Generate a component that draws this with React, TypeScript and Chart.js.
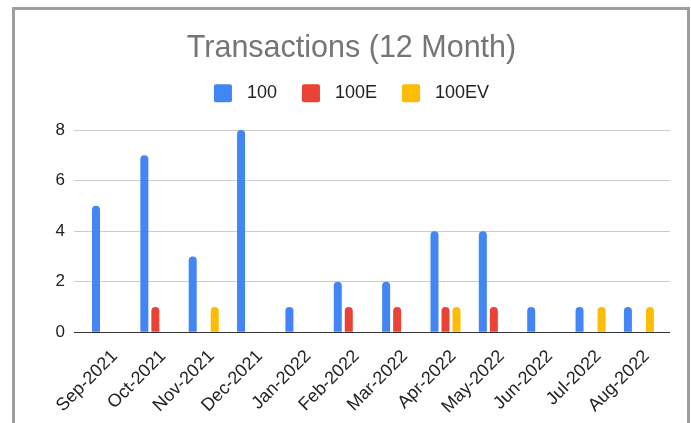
import React, { useEffect, useRef } from "react";
import { Chart, registerables } from "chart.js";

Chart.register(...registerables);

const MONTHS = [
  "Sep-2021", "Oct-2021", "Nov-2021", "Dec-2021", "Jan-2022", "Feb-2022",
  "Mar-2022", "Apr-2022", "May-2022", "Jun-2022", "Jul-2022", "Aug-2022",
];
const SERIES_100 = [5, 7, 3, 8, 1, 2, 2, 4, 4, 1, 1, 1];
const SERIES_100E = [0, 1, 0, 0, 0, 1, 1, 1, 1, 0, 0, 0];
const SERIES_100EV = [0, 0, 1, 0, 0, 0, 0, 1, 0, 0, 1, 1];
const SERIES_NAMES = ["100", "100E", "100EV"];
const Y_TICKS = [0, 2, 4, 6, 8];

const COLORS = ["#4285F4", "#EA4335", "#FBBC04"];
const FONT = "'Liberation Sans', Arial, sans-serif";
const LABEL_SHIFT = 0.16;

export default function App() {
  const ref = useRef<HTMLCanvasElement | null>(null);

  useEffect(() => {
    if (!ref.current) return;
    const seriesList = [SERIES_100, SERIES_100E, SERIES_100EV];
    const chart = new Chart(ref.current, {
      type: "bar",
      data: {
        datasets: seriesList.map((vals, si) => ({
          label: SERIES_NAMES[si],
          data: vals.map((v, i) => ({ x: i, y: v })),
          backgroundColor: COLORS[si],
          borderRadius: 4,
          borderSkipped: "start",
          categoryPercentage: 0.6825,
          barPercentage: 0.727,
          xAxisID: "x",
          yAxisID: "y",
        })),
      },
      options: {
        responsive: false,
        animation: false,
        layout: { padding: { left: 12, right: 0, top: 0, bottom: 0 } },
        plugins: {
          tooltip: { enabled: false },
          title: {
            display: true,
            text: "Transactions (12 Month)",
            color: "#757575",
            font: { family: FONT, size: 30.5, weight: "normal", lineHeight: 0.6 },
            padding: { top: 39.9, bottom: 1.1 },
          },
          legend: {
            display: true,
            position: "top",
            labels: {
              boxWidth: 18,
              boxHeight: 18,
              padding: 25,
              color: "#222222",
              font: { family: FONT, size: 18 },
              generateLabels: (c: any) =>
                c.data.datasets.map((ds: any, i: number) => ({
                  text: "\u2004" + ds.label,
                  fillStyle: ds.backgroundColor,
                  strokeStyle: ds.backgroundColor,
                  lineWidth: 0,
                  borderRadius: 2,
                  hidden: false,
                  datasetIndex: i,
                  fontColor: "#222222",
                })),
            },
          },
        },
        scales: {
          x: {
            type: "linear",
            position: "bottom",
            offset: false,
            bounds: "data",
            min: -0.6825,
            max: 11.643,
            grid: { display: false, drawTicks: false, offset: false },
            border: { display: false },
            afterBuildTicks: (s: any) => {
              s.ticks = MONTHS.map((_, i) => ({ value: i + LABEL_SHIFT }));
            },
            afterFit: (s: any) => {
              s.height = 90.7;
            },
            ticks: {
              autoSkip: false,
              minRotation: 45,
              maxRotation: 45,
              padding: 13.5,
              color: "#222222",
              font: { family: FONT, size: 18 },
              callback: (_v: any, i: number) => MONTHS[i],
            },
          },
          y: {
            type: "linear",
            position: "left",
            min: 0,
            max: 8,
            afterBuildTicks: (s: any) => {
              s.ticks = Y_TICKS.map((v) => ({ value: v }));
            },
            afterFit: (s: any) => {
              s.width = 62;
            },
            grid: {
              drawTicks: false,
              color: (ctx: any) => (ctx.tick && ctx.tick.value === 0 ? "#333333" : "#cccccc"),
              lineWidth: 1,
            },
            border: { display: false },
            ticks: {
              padding: 9,
              color: "#222222",
              font: { family: FONT, size: 17 },
            },
          },
          top: {
            type: "linear",
            position: "top",
            display: true,
            grid: { display: false, drawTicks: false },
            border: { display: false },
            ticks: { display: false },
            afterFit: (s: any) => {
              s.height = 17.7;
            },
          },
          right: {
            type: "linear",
            position: "right",
            display: true,
            grid: { display: false, drawTicks: false },
            border: { display: false },
            ticks: { display: false },
            afterFit: (s: any) => {
              s.width = 21;
            },
          },
        },
      },
    } as any);
    return () => chart.destroy();
  }, []);

  return (
    <div style={{ position: "fixed", left: 0, top: 0, width: 691, height: 423, background: "#fff", overflow: "hidden" }}>
      <canvas
        ref={ref}
        width={691}
        height={423}
        style={{ position: "absolute", left: 0, top: 0, width: 691, height: 423 }}
      />
      <div
        style={{
          position: "absolute",
          left: 12,
          top: 7,
          width: 672,
          height: 440,
          border: "3px solid #9e9e9e",
          pointerEvents: "none",
        }}
      />
    </div>
  );
}
